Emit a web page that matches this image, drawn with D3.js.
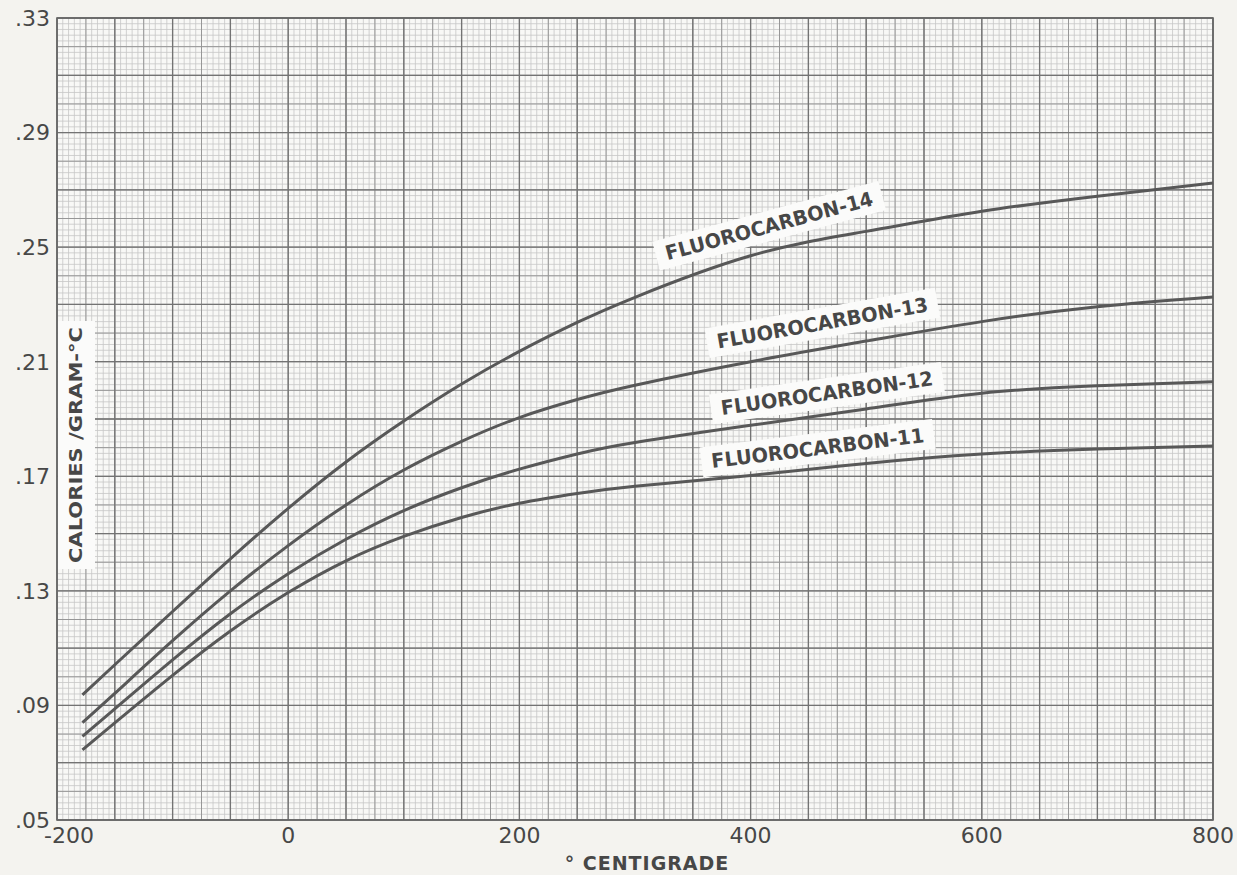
<!DOCTYPE html>
<html>
<head>
<meta charset="utf-8">
<script src="https://cdn.jsdelivr.net/npm/d3@7"></script>
<style>
  body { margin: 0; background: #f4f3ef; }
  text { font-family: "DejaVu Sans", sans-serif; fill: #474747; }
</style>
</head>
<body>
<script>
// temperatures, deg C
const temps = [-178, -150, -100, -50, 0, 50, 100, 150, 200, 250, 300, 400, 500, 600, 700, 800];

// specific heat, cal / g-C
const fc14 = [.0937, .1042, .1228, .1412, .1588, .1750, .1893, .2022, .2136, .2237, .2325, .2470, .2555, .2625, .2678, .2724];
const fc13 = [.0840, .0942, .1126, .1300, .1458, .1600, .1722, .1822, .1905, .1968, .2018, .2100, .2172, .2240, .2292, .2326];
const fc12 = [.0792, .0888, .1059, .1220, .1360, .1480, .1580, .1660, .1725, .1778, .1818, .1878, .1935, .1990, .2016, .2030];
const fc11 = [.0745, .0839, .1005, .1160, .1294, .1405, .1490, .1556, .1606, .1640, .1665, .1703, .1745, .1778, .1795, .1806];

const seriesNames = ["FLUOROCARBON-14", "FLUOROCARBON-13", "FLUOROCARBON-12", "FLUOROCARBON-11"];
// label anchor (temp, value) and slope angle
const labelTemps = [416, 462, 466, 458];
const labelVals = [.2575, .2236, .1991, .1799];
const labelAngles = [-15, -10, -8, -7];

const xTicks = [-200, 0, 200, 400, 600, 800];
const yTicks = [.05, .09, .13, .17, .21, .25, .29, .33];

const w = 1237, h = 875;
const x = d3.scaleLinear().domain([-200, 800]).range([57, 1213]);
const y = d3.scaleLinear().domain([0.05, 0.33]).range([820, 18]);

const svg = d3.select("body").append("svg")
  .attr("width", w)
  .attr("height", h);

svg.append("rect")
  .attr("x", x(-200)).attr("y", y(0.33))
  .attr("width", x(800) - x(-200)).attr("height", y(0.05) - y(0.33))
  .attr("fill", "#f8f8f6");

// graph paper: fine, medium, heavy
const grid = svg.append("g");
function vlines(step, color, width) {
  grid.selectAll(null)
    .data(d3.range(-200, 800.01, step))
    .enter().append("line")
    .attr("x1", d => x(d)).attr("x2", d => x(d))
    .attr("y1", y(0.33)).attr("y2", y(0.05))
    .attr("stroke", color).attr("stroke-width", width);
}
function hlines(step, color, width) {
  grid.selectAll(null)
    .data(d3.range(0, 140.01, step))
    .enter().append("line")
    .attr("y1", d => y(0.05 + d * 0.002)).attr("y2", d => y(0.05 + d * 0.002))
    .attr("x1", x(-200)).attr("x2", x(800))
    .attr("stroke", color).attr("stroke-width", width);
}
vlines(5, "#c6c6c6", 0.8);
hlines(1, "#c6c6c6", 0.8);
vlines(25, "#979797", 1);
hlines(5, "#979797", 1);
vlines(50, "#737373", 1.3);
hlines(10, "#737373", 1.3);

svg.append("rect")
  .attr("x", x(-200)).attr("y", y(0.33))
  .attr("width", x(800) - x(-200)).attr("height", y(0.05) - y(0.33))
  .attr("fill", "none").attr("stroke", "#666").attr("stroke-width", 1.6);

// curves
const line = d3.line()
  .x((d, i) => x(temps[i]))
  .y(d => y(d))
  .curve(d3.curveNatural);

svg.selectAll(".curve")
  .data([fc14, fc13, fc12, fc11])
  .enter().append("path")
  .attr("class", "curve")
  .attr("d", line)
  .attr("fill", "none")
  .attr("stroke", "#585858")
  .attr("stroke-width", 3);

// curve labels on white strips
seriesNames.forEach((name, i) => {
  const g = svg.append("g")
    .attr("transform", `translate(${x(labelTemps[i])},${y(labelVals[i])}) rotate(${labelAngles[i]})`);
  const bg = g.append("rect").attr("fill", "#fbfbfa");
  const t = g.append("text")
    .attr("text-anchor", "middle")
    .attr("dy", "0.36em")
    .attr("font-size", 20)
    .attr("font-weight", "bold")
    .attr("textLength", 214)
    .attr("lengthAdjust", "spacingAndGlyphs")
    .text(name);
  const b = t.node().getBBox();
  bg.attr("x", b.x - 10).attr("y", b.y - 3)
    .attr("width", b.width + 20).attr("height", b.height + 6);
});

// y tick labels
svg.selectAll(".ytick")
  .data(yTicks)
  .enter().append("text")
  .attr("x", 50)
  .attr("y", d => y(d))
  .attr("dy", "0.36em")
  .attr("text-anchor", "end")
  .attr("font-size", 22)
  .text(d => d3.format(".2f")(d).replace(/^0/, ""));

// x tick labels
svg.selectAll(".xtick")
  .data(xTicks)
  .enter().append("text")
  .attr("x", d => x(d) + (d === -200 ? 12 : 0))
  .attr("y", 843)
  .attr("text-anchor", "middle")
  .attr("font-size", 22)
  .text(d => d);

// axis titles
svg.append("text")
  .attr("x", 647).attr("y", 870)
  .attr("text-anchor", "middle")
  .attr("font-size", 19)
  .attr("font-weight", "bold")
  .attr("letter-spacing", 1)
  .text("° CENTIGRADE");

const yt = svg.append("g").attr("transform", "translate(76,445) rotate(-90)");
yt.append("rect")
  .attr("x", -124).attr("y", -18).attr("width", 248).attr("height", 37)
  .attr("fill", "#fbfbfa");
yt.append("text")
  .attr("text-anchor", "middle")
  .attr("dy", "0.36em")
  .attr("font-size", 18)
  .attr("font-weight", "bold")
  .attr("textLength", 236)
  .attr("lengthAdjust", "spacingAndGlyphs")
  .text("CALORIES /GRAM-°C");
</script>
</body>
</html>
